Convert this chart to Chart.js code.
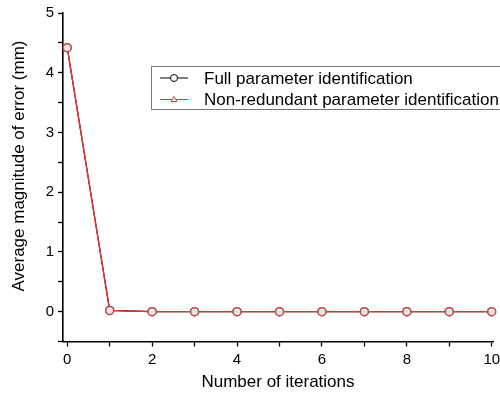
<!DOCTYPE html>
<html>
<head>
<meta charset="utf-8">
<script src="https://cdn.jsdelivr.net/npm/chart.js@4.4.0/dist/chart.umd.min.js"></script>
<style>
  html, body { margin: 0; padding: 0; background: #fff; }
  #wrap { width: 500px; height: 393px; }
</style>
</head>
<body>
<div id="wrap"><canvas id="myChart"></canvas></div>
<script>
// data
const iterations = [0, 1, 2, 3, 4, 5, 6, 7, 8, 9, 10];
const fullError = [4.42, 0.02, 0, 0, 0, 0, 0, 0, 0, 0, 0];
const nonRedError = [4.42, 0.02, 0, 0, 0, 0, 0, 0, 0, 0, 0];
const seriesNames = ["Full parameter identification", "Non-redundant parameter identification"];
const xTicks = [0, 1, 2, 3, 4, 5, 6, 7, 8, 9, 10];
const yTicks = [-0.5, 0, 0.5, 1, 1.5, 2, 2.5, 3, 3.5, 4, 4.5, 5];

const FONT = "Liberation Sans, Arial, sans-serif";

// legend box + y title, drawn by hand like the original figure
const extras = {
  id: "extras",
  afterDatasetsDraw(chart) {
    // circles of the full series sit on top of the red line
    chart.getDatasetMeta(0).data.forEach(p => p.draw(chart.ctx, chart.chartArea));
  },
  afterDraw(chart) {
    const c = chart.ctx;
    c.save();
    // y axis title
    c.translate(19, 166);
    c.rotate(-Math.PI / 2);
    c.font = "17px " + FONT;
    c.fillStyle = "#000";
    c.textAlign = "center";
    c.textBaseline = "middle";
    c.fillText("Average magnitude of error (mm)", 0, 0);
    c.restore();

    c.save();
    c.strokeStyle = "#777";
    c.lineWidth = 1;
    c.strokeRect(151.5, 66.5, 360, 43);
    c.font = "17px " + FONT;
    c.textBaseline = "middle";
    // row 1
    c.strokeStyle = "#000";
    c.beginPath(); c.moveTo(160, 78); c.lineTo(188, 78); c.stroke();
    c.fillStyle = "#fff";
    c.beginPath(); c.arc(174, 78, 3.5, 0, Math.PI * 2); c.fill(); c.stroke();
    c.fillStyle = "#000";
    c.fillText(seriesNames[0], 204, 79);
    // row 2
    c.strokeStyle = "#e03a3a";
    c.beginPath(); c.moveTo(160, 99.5); c.lineTo(188, 99.5); c.stroke();
    c.fillStyle = "#fff";
    c.beginPath(); c.moveTo(174, 96.5); c.lineTo(177, 101.5); c.lineTo(171, 101.5); c.closePath(); c.fill(); c.stroke();
    c.fillStyle = "#000";
    c.fillText(seriesNames[1], 204, 100.5);
    c.restore();
  }
};

const ctx = document.getElementById("myChart").getContext("2d");
const myChart = new Chart(ctx, {
  type: "line",
  data: {
    labels: iterations,
    datasets: [{
      label: seriesNames[0],
      data: iterations.map((x, i) => ({ x: x, y: fullError[i] })),
      borderColor: "#000",
      borderWidth: 1.2,
      pointStyle: "circle",
      pointRadius: 4,
      pointBorderWidth: 1.5,
      pointBorderColor: "#b85050",
      pointBackgroundColor: "#ece4e4",
      order: 2
    }, {
      label: seriesNames[1],
      data: iterations.map((x, i) => ({ x: x, y: nonRedError[i] })),
      borderColor: "#e8332f",
      borderWidth: 1.4,
      pointStyle: "triangle",
      pointRadius: 2.5,
      pointBorderColor: "#e8332f",
      pointBackgroundColor: "#fff",
      order: 1
    }]
  },
  options: {
    responsive: true,
    maintainAspectRatio: false,
    animation: false,
    layout: { autoPadding: false, padding: { top: 13, right: 7, left: 0, bottom: 0 } },
    plugins: {
      legend: { display: false },
      tooltip: { enabled: false }
    },
    scales: {
      x: {
        type: "linear",
        min: -0.1,
        max: 10.03,
        afterBuildTicks: (s) => { s.ticks = xTicks.map(v => ({ value: v })); },
        afterFit: (s) => { s.height = 51.5; s.paddingLeft = 0; s.paddingRight = 0; },
        ticks: {
          color: "#000",
          font: { family: FONT, size: 15 },
          padding: 4,
          maxRotation: 0,
          autoSkip: false,
          callback: (v) => (v % 2 === 0 ? v : "")
        },
        grid: { drawOnChartArea: false, drawTicks: true, tickLength: 5, tickColor: "#000", tickWidth: 1.3 },
        border: { display: true, color: "#000", width: 1.6 },
        title: {
          display: true,
          text: "Number of iterations",
          color: "#000",
          font: { family: FONT, size: 17 },
          padding: { top: 4, bottom: 0 }
        }
      },
      y: {
        min: -0.5,
        max: 5,
        afterBuildTicks: (s) => { s.ticks = yTicks.map(v => ({ value: v })); },
        afterFit: (s) => { s.width = 63; s.paddingTop = 0; s.paddingBottom = 0; },
        ticks: {
          color: "#000",
          font: { family: FONT, size: 15 },
          padding: 4,
          autoSkip: false,
          callback: (v) => (Number.isInteger(v) ? v : "")
        },
        grid: { drawOnChartArea: false, drawTicks: true, tickLength: 5, tickColor: "#000", tickWidth: 1.3 },
        border: { display: true, color: "#000", width: 1.6 }
      }
    }
  },
  plugins: [extras]
});
</script>
</body>
</html>
